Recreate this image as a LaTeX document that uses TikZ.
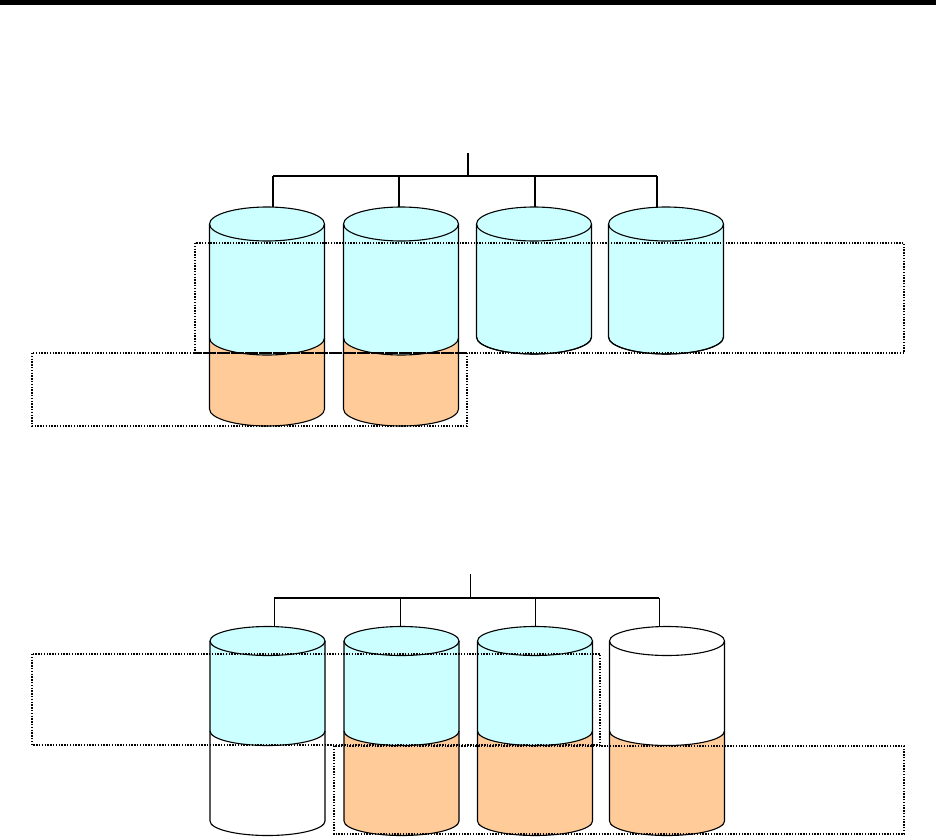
\documentclass[tikz,border=0pt]{standalone}

\definecolor{diskcyan}{HTML}{CCFFFF}
\definecolor{diskorange}{HTML}{FFCC99}

\tikzset{
	rim/.style={line width=1.1pt, black},
	groupbox/.style={line width=1.4pt, dash pattern=on 1.4pt off 1.4pt},
	wire/.style={line width=1.5pt},
	thinwire/.style={line width=0.9pt},
}

%% \drum{x}{top y}{split y}{bottom y}{y radius}{upper colour}{lower colour}
\newcommand{\drum}[7]{
	\fill [#6] (#1-57.5,-#2) arc [start angle=180, end angle=0, x radius=57.5, y radius=#5]
		-- (#1+57.5,-#3) arc [start angle=0, end angle=-180, x radius=57.5, y radius=#5]
		-- cycle;
	\fill [#7] (#1-57.5,-#3) -- (#1-57.5,-#4)
		arc [start angle=180, end angle=360, x radius=57.5, y radius=#5]
		-- (#1+57.5,-#3) arc [start angle=0, end angle=-180, x radius=57.5, y radius=#5]
		-- cycle;
	\draw [rim] (#1,-#2) ellipse [x radius=57.5, y radius=#5];
	\draw [rim] (#1-57.5,-#2) -- (#1-57.5,-#4)
		arc [start angle=180, end angle=360, x radius=57.5, y radius=#5]
		-- (#1+57.5,-#2);
	\draw [rim] (#1-57.5,-#3) arc [start angle=180, end angle=360, x radius=57.5, y radius=#5];
}

\begin{document}
\begin{tikzpicture}[x=1pt, y=1pt]
	\useasboundingbox (0,0) rectangle (936,-838);

	%% Bar along the top
	\fill (0,0) rectangle (936,-5);

	%% Upper set of disks
	\coordinate (upper hub) at (468,-153);
	\coordinate (upper bus) at (468,-176);
	\draw [wire] (upper hub) -- (upper bus);
	\foreach \x [count=\i] in {273,399,535,657} {
		\coordinate (ua\i) at (\x,-176);
		\coordinate (ud\i) at (\x,-207);
		\draw [wire] (ua\i) -- (ud\i);
	}
	\draw [wire] (ua1) -- (ua4);

	\drum{267}{224}{338}{409}{17}{diskcyan}{diskorange}
	\drum{401}{224}{338}{409}{17}{diskcyan}{diskorange}
	\drum{534}{224}{337}{337}{17}{diskcyan}{diskcyan}
	\drum{666}{224}{337}{337}{17}{diskcyan}{diskcyan}

	\draw [groupbox] (195,-243) rectangle (904,-353);
	\draw [groupbox] (32,-353) rectangle (467,-426);

	%% Lower set of disks
	\coordinate (lower hub) at (470,-574);
	\coordinate (lower bus) at (470,-598);
	\draw [thinwire] (lower hub) -- (lower bus);
	\foreach \x [count=\i] in {274,400,535,659} {
		\coordinate (la\i) at (\x,-598);
		\coordinate (ld\i) at (\x,-626.5);
		\draw [thinwire] (la\i) -- (ld\i);
	}
	\draw [wire] (la1) -- (la4);

	\drum{267.5}{641}{731}{821}{14.5}{diskcyan}{white}
	\drum{401.5}{641}{731}{821}{14.5}{diskcyan}{diskorange}
	\drum{535}{641}{731}{821}{14.5}{diskcyan}{diskorange}
	\drum{667}{641}{731}{821}{14.5}{white}{diskorange}

	\draw [groupbox] (32,-654) rectangle (600,-745);
	\draw [groupbox] (334,-746) rectangle (904,-834);
\end{tikzpicture}
\end{document}
